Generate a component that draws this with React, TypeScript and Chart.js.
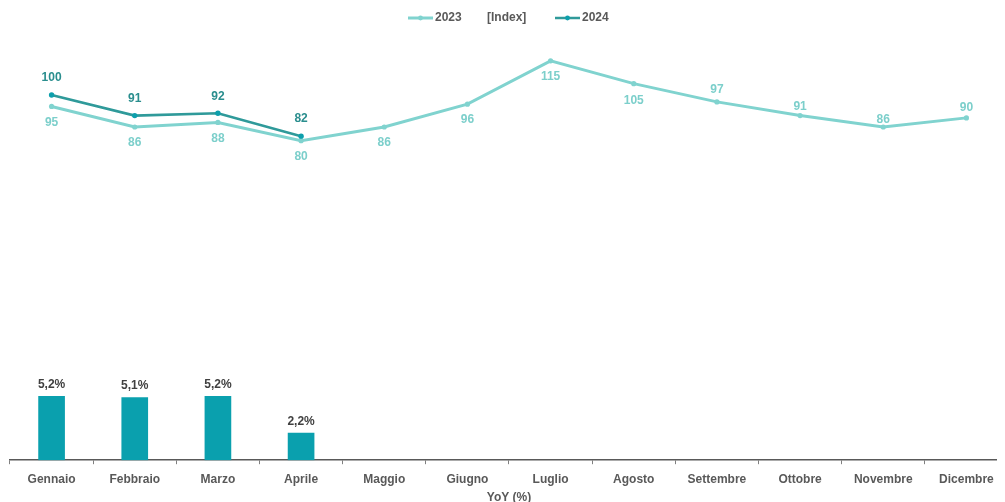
import React, { useEffect, useRef } from "react";
import { Chart, registerables } from "chart.js";

Chart.register(...registerables);

const months = [
  "Gennaio", "Febbraio", "Marzo", "Aprile", "Maggio", "Giugno",
  "Luglio", "Agosto", "Settembre", "Ottobre", "Novembre", "Dicembre",
];
const index2023 = [95, 86, 88, 80, 86, 96, 115, 105, 97, 91, 86, 90];
const index2024: (number | null)[] = [100, 91, 92, 82, null, null, null, null, null, null, null, null];
const yoyPct: (number | null)[] = [5.2, 5.1, 5.2, 2.2, null, null, null, null, null, null, null, null];
const legendLabels = ["2023", "[Index]", "2024"];
const axisTitle = "YoY (%)";

// label vertical offsets (style only)
const offsets2023 = [16, 16, 16, 16, 16, 16, 16, 17, -12, -9, -7, -10];

const C2023 = "#80d3cf";
const C2024 = "#2f9a9a";
const C2024PT = "#0d9fac";
const CBAR = "#0aa0ae";
const FONT = "'Liberation Sans', Arial, sans-serif";

const labelsPlugin = {
  id: "customLabels",
  afterDatasetsDraw(chart: any) {
    const ctx = chart.ctx;
    ctx.save();
    ctx.textAlign = "center";
    ctx.textBaseline = "middle";
    ctx.font = `bold 12px ${FONT}`;
    chart.data.datasets.forEach((ds: any, di: number) => {
      const meta = chart.getDatasetMeta(di);
      meta.data.forEach((el: any, i: number) => {
        const v = ds.data[i];
        if (v === null || v === undefined) return;
        if (ds.type === "bar") {
          ctx.fillStyle = "#404040";
          ctx.fillText(String(v.toFixed(1)).replace(".", ",") + "%", el.x, el.y - 12);
        } else if (ds.label === "2023") {
          ctx.fillStyle = "#7ccfcb";
          ctx.fillText(String(v), el.x, el.y + offsets2023[i]);
        } else {
          ctx.fillStyle = "#2a8e8e";
          ctx.fillText(String(v), el.x, el.y - 17);
        }
      });
    });
    ctx.restore();
  },
  afterDraw(chart: any) {
    const ctx = chart.ctx;
    ctx.save();
    ctx.font = `bold 12px ${FONT}`;
    ctx.textBaseline = "middle";
    ctx.textAlign = "left";
    const y = 10;
    // 2023
    ctx.strokeStyle = C2023;
    ctx.lineWidth = 3;
    ctx.beginPath();
    ctx.moveTo(400, y);
    ctx.lineTo(425, y);
    ctx.stroke();
    ctx.fillStyle = C2023;
    ctx.beginPath();
    ctx.arc(412.5, y, 2.4, 0, Math.PI * 2);
    ctx.fill();
    ctx.fillStyle = "#595959";
    ctx.fillText(legendLabels[0], 427, y);
    ctx.fillText(legendLabels[1], 479, y);
    // 2024
    ctx.strokeStyle = C2024;
    ctx.lineWidth = 2.5;
    ctx.beginPath();
    ctx.moveTo(547, y);
    ctx.lineTo(572, y);
    ctx.stroke();
    ctx.fillStyle = C2024PT;
    ctx.beginPath();
    ctx.arc(559.5, y, 2.4, 0, Math.PI * 2);
    ctx.fill();
    ctx.fillStyle = "#595959";
    ctx.fillText(legendLabels[2], 574, y);
    ctx.restore();
  },
};

export default function App() {
  const ref = useRef<HTMLCanvasElement | null>(null);
  useEffect(() => {
    if (!ref.current) return;
    const chart = new Chart(ref.current, {
      type: "bar",
      data: {
        labels: months,
        datasets: [
          {
            type: "line",
            label: "2024",
            data: index2024,
            yAxisID: "yLine",
            borderColor: C2024,
            backgroundColor: C2024PT,
            pointBackgroundColor: C2024PT,
            pointBorderColor: C2024PT,
            borderWidth: 2.6,
            pointRadius: 2.7,
            pointBorderWidth: 0,
            spanGaps: false,
            order: 0,
          } as any,
          {
            type: "line",
            label: "2023",
            data: index2023,
            yAxisID: "yLine",
            borderColor: C2023,
            backgroundColor: C2023,
            pointBackgroundColor: C2023,
            pointBorderColor: C2023,
            borderWidth: 3,
            pointRadius: 2.6,
            pointBorderWidth: 0,
            order: 1,
          } as any,
          {
            type: "bar",
            label: "YoY",
            data: yoyPct,
            yAxisID: "yBar",
            backgroundColor: CBAR,
            barThickness: 26,
            order: 2,
          } as any,
        ],
      },
      options: {
        responsive: false,
        animation: false,
        layout: { autoPadding: false, padding: { top: 30, left: 2, right: 0, bottom: 0 } },
        plugins: {
          legend: { display: false },
          tooltip: { enabled: false },
        },
        scales: {
          x: {
            offset: true,
            grid: {
              display: true,
              offset: true,
              drawOnChartArea: false,
              drawTicks: true,
              tickLength: 4,
              color: "#808080",
            },
            border: { display: true, color: "#595959", width: 1.5 },
            ticks: {
              color: "#595959",
              font: { family: FONT, size: 12, weight: "bold" },
              padding: 8,
              maxRotation: 0,
              autoSkip: false,
            },
            title: {
              display: true,
              text: axisTitle,
              color: "#595959",
              font: { family: FONT, size: 12, weight: "bold" },
              padding: { top: -4, bottom: 0 },
            },
          },
          yLine: {
            display: false,
            min: -60,
            max: 125,
          },
          yBar: {
            display: false,
            min: 0,
            max: 34.4,
          },
        },
      },
      plugins: [labelsPlugin],
    });
    return () => chart.destroy();
  }, []);
  return (
    <div style={{ width: 997, height: 494, overflow: "hidden" }}>
      <canvas ref={ref} width={1000} height={497} style={{ display: "block" }} />
    </div>
  );
}
